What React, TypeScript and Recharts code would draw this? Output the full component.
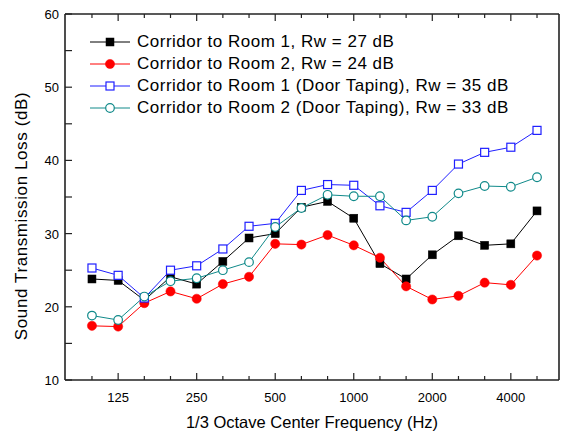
import React from "react"
import {
    LineChart,
    Line,
    XAxis,
    YAxis,
    Legend,
} from "recharts"

const freqLabels = ["100", "125", "160", "200", "250", "315", "400", "500", "630", "800", "1000", "1250", "1600", "2000", "2500", "3150", "4000", "5000"]
const majorFreqs = ["125", "250", "500", "1000", "2000", "4000"]
const yTicks = [10, 15, 20, 25, 30, 35, 40, 45, 50, 55, 60]

const room1 = [23.8, 23.6, 20.9, 24.1, 23.1, 26.2, 29.4, 30.0, 33.6, 34.4, 32.1, 25.9, 23.8, 27.1, 29.7, 28.4, 28.6, 33.1]
const room2 = [17.4, 17.3, 20.5, 22.1, 21.1, 23.1, 24.1, 28.6, 28.5, 29.8, 28.4, 26.7, 22.8, 21.0, 21.5, 23.3, 23.0, 27.0]
const room1Taped = [25.3, 24.3, 21.2, 25.0, 25.6, 27.9, 31.0, 31.4, 35.9, 36.7, 36.6, 33.8, 32.9, 35.9, 39.5, 41.1, 41.8, 44.1]
const room2Taped = [18.8, 18.2, 21.4, 23.5, 23.9, 25.0, 26.1, 30.9, 33.5, 35.3, 35.1, 35.1, 31.8, 32.3, 35.5, 36.5, 36.4, 37.7]

const series = [
    { key: "room1", name: "Corridor to Room 1, Rw = 27 dB", color: "#000000", shape: "square", filled: true },
    { key: "room2", name: "Corridor to Room 2, Rw = 24 dB", color: "#ff0000", shape: "circle", filled: true },
    { key: "room1Taped", name: "Corridor to Room 1 (Door Taping), Rw = 35 dB", color: "#1f1fff", shape: "square", filled: false },
    { key: "room2Taped", name: "Corridor to Room 2 (Door Taping), Rw = 33 dB", color: "#108a8a", shape: "circle", filled: false },
]

const data = freqLabels.map((f, i) => ({
    idx: i,
    freq: f,
    room1: room1[i],
    room2: room2[i],
    room1Taped: room1Taped[i],
    room2Taped: room2Taped[i],
}))

const AXIS = "#222"
const FONT = "Liberation Sans, Arial, sans-serif"

function Marker({ cx, cy, shape, filled, color }: any) {
    if (cx == null || cy == null) return null
    if (shape === "square") {
        return (
            <rect x={cx - 4} y={cy - 4} width={8} height={8}
                fill={filled ? color : "#fff"} stroke={color} strokeWidth={filled ? 0.5 : 1.2} />
        )
    }
    return (
        <circle cx={cx} cy={cy} r={filled ? 4.6 : 4.3}
            fill={filled ? color : "#fff"} stroke={color} strokeWidth={filled ? 0.5 : 1.2} />
    )
}

function makeDot(s: any) {
    return (props: any) => (
        <Marker key={`${s.key}-${props.index}`} cx={props.cx} cy={props.cy}
            shape={s.shape} filled={s.filled} color={s.color} />
    )
}

function BottomTick({ x, y, payload }: any) {
    const label = freqLabels[payload.value]
    const major = majorFreqs.includes(label)
    return (
        <g>
            <line x1={x} x2={x} y1={y} y2={y - (major ? 7 : 4)} stroke={AXIS} strokeWidth={1.2} />
            {major && (
                <text x={x} y={y + 22} textAnchor="middle" fontSize={13} fill="#000" fontFamily={FONT}>
                    {label}
                </text>
            )}
        </g>
    )
}

function TopTick({ x, y, payload }: any) {
    const major = majorFreqs.includes(freqLabels[payload.value])
    return <line x1={x} x2={x} y1={y} y2={y + (major ? 7 : 4)} stroke={AXIS} strokeWidth={1.2} />
}

function LeftTick({ x, y, payload }: any) {
    const major = payload.value % 10 === 0
    return (
        <g>
            <line x1={x} x2={x + 7} y1={y} y2={y} stroke={AXIS} strokeWidth={1.2} />
            {major && (
                <text x={x - 6} y={y + 5} textAnchor="end" fontSize={13} fill="#000" fontFamily={FONT}>
                    {payload.value}
                </text>
            )}
        </g>
    )
}

function RightTick({ x, y }: any) {
    return <line x1={x} x2={x - 7} y1={y} y2={y} stroke={AXIS} strokeWidth={1.2} />
}

function LegendBox() {
    return (
        <div style={{ fontFamily: FONT, fontSize: 17, letterSpacing: 0.5, color: "#000" }}>
            {series.map((s) => (
                <div key={s.key} style={{ display: "flex", alignItems: "center", height: 22 }}>
                    <svg width={44} height={14} style={{ marginRight: 3 }}>
                        <line x1={0} x2={40} y1={7} y2={7} stroke={s.color} strokeWidth={1} />
                        <Marker cx={20} cy={7} shape={s.shape} filled={s.filled} color={s.color} />
                    </svg>
                    <span style={{ whiteSpace: "nowrap" }}>{s.name}</span>
                </div>
            ))}
        </div>
    )
}

export default function App() {
    return (
        <div style={{ position: "absolute", left: 0, top: 0, width: 563, height: 436, background: "#fff" }}>
            <LineChart
                width={563}
                height={436}
                data={data}
                margin={{ top: 0, right: 0, left: 0, bottom: 0 }}
            >
                <XAxis
                    xAxisId="bottom"
                    type="number"
                    dataKey="idx"
                    domain={[-1.03, 17.84]}
                    ticks={data.map((d) => d.idx)}
                    allowDataOverflow
                    height={56}
                    tickLine={false}
                    tickSize={0}
                    tickMargin={0}
                    tick={<BottomTick />}
                    axisLine={{ stroke: AXIS, strokeWidth: 1.6 }}
                    label={{ value: "1/3 Octave Center Frequency (Hz)", position: "insideBottom", offset: 8, style: { fontSize: 16.5, fill: "#000", fontFamily: FONT } }}
                />
                <XAxis
                    xAxisId="top"
                    orientation="top"
                    type="number"
                    dataKey="idx"
                    domain={[-1.03, 17.84]}
                    ticks={data.map((d) => d.idx)}
                    allowDataOverflow
                    height={14}
                    tickLine={false}
                    tickSize={0}
                    tickMargin={0}
                    tick={<TopTick />}
                    axisLine={{ stroke: AXIS, strokeWidth: 1.6 }}
                />
                <YAxis
                    yAxisId="left"
                    type="number"
                    domain={[10, 60]}
                    ticks={yTicks}
                    width={65}
                    tickLine={false}
                    tickSize={0}
                    tickMargin={0}
                    tick={<LeftTick />}
                    axisLine={{ stroke: AXIS, strokeWidth: 1.6 }}
                    label={{ value: "Sound Transmission Loss (dB)", angle: -90, position: "center", dx: -12, dy: 19, style: { fontSize: 17, letterSpacing: 0.6, fill: "#000", fontFamily: FONT } }}
                />
                <YAxis
                    yAxisId="right"
                    orientation="right"
                    type="number"
                    domain={[10, 60]}
                    ticks={yTicks}
                    width={4}
                    tickLine={false}
                    tickSize={0}
                    tickMargin={0}
                    tick={<RightTick />}
                    axisLine={{ stroke: AXIS, strokeWidth: 1.6 }}
                />
                <Legend
                    layout="vertical"
                    align="center"
                    verticalAlign="middle"
                    wrapperStyle={{ top: 31, left: 90, width: "auto" }}
                    content={() => <LegendBox />}
                />
                {series.map((s) => (
                    <Line
                        key={s.key}
                        xAxisId="bottom"
                        yAxisId="left"
                        type="linear"
                        dataKey={s.key}
                        name={s.name}
                        stroke={s.color}
                        strokeWidth={1}
                        dot={makeDot(s)}
                        activeDot={false}
                        isAnimationActive={false}
                    />
                ))}
            </LineChart>
        </div>
    )
}
